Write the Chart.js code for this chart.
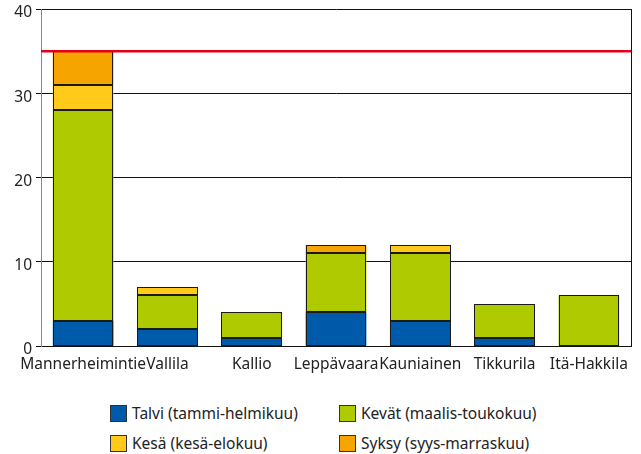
<!DOCTYPE html>
<html>
<head>
<meta charset="utf-8">
<script src="https://cdn.jsdelivr.net/npm/chart.js@4/dist/chart.umd.min.js"></script>
<style>
  body { margin: 0; background: #fff; }
  #wrap { position: relative; width: 641px; height: 454px; }
  #chart { position: absolute; left: 0; top: 0; }
  .leg { position: absolute; font: 15.5px "Noto Sans", sans-serif; color: #222; white-space: nowrap; line-height: 18px; }
  .leg span { display: inline-block; width: 15px; height: 15px; border: 1px solid #333; vertical-align: -3px; margin-right: 5px; }
</style>
</head>
<body>
<div id="wrap">
  <canvas id="chart" width="641" height="385"></canvas>
  <div id="legend"></div>
</div>
<script>
// Sites and season counts (stacked)
const sites = ['Mannerheimintie', 'Vallila', 'Kallio', 'Leppävaara', 'Kauniainen', 'Tikkurila', 'Itä-Hakkila'];
const talvi = [3, 2, 1, 4, 3, 1, 0];
const kevat = [25, 4, 3, 7, 8, 4, 6];
const kesa = [3, 1, 0, 0, 1, 0, 0];
const syksy = [4, 0, 0, 1, 0, 0, 0];
const limitValue = 35;
const yTicks = [0, 10, 20, 30, 40];

const seriesNames = ['Talvi (tammi-helmikuu)', 'Kevät (maalis-toukokuu)', 'Kesä (kesä-elokuu)', 'Syksy (syys-marraskuu)'];
const seriesColors = ['#005aaa', '#b0ca00', '#ffca1a', '#f5a400'];
const seriesData = [talvi, kevat, kesa, syksy];

const font = { family: '"Noto Sans", sans-serif', size: 15.5, lineHeight: 1 };

// Crisp outlines around each bar segment, taken from the bar elements
const barOutlines = {
    id: 'barOutlines',
    afterDatasetsDraw(chart) {
        const ctx = chart.ctx;
        ctx.save();
        ctx.strokeStyle = '#1a1a1a';
        ctx.lineWidth = 1;
        chart.data.datasets.forEach((ds, i) => {
            chart.getDatasetMeta(i).data.forEach((el, j) => {
                if (!ds.data[j]) return;
                const p = el.getProps(['x', 'y', 'base', 'width'], true);
                const l = Math.round(p.x - p.width / 2) + 0.5;
                const r = Math.round(p.x + p.width / 2) - 0.5;
                const t = Math.round(p.y) + 0.5;
                const b = Math.round(p.base) - 0.5;
                ctx.strokeRect(l, t, r - l, b - t);
            });
        });
        ctx.restore();
    }
};

// Red limit line + right border of the plot
const limitLine = {
    id: 'limitLine',
    afterDatasetsDraw(chart) {
        const { ctx, chartArea, scales } = chart;
        const y = scales.y.getPixelForValue(limitValue);
        ctx.save();
        ctx.strokeStyle = '#111';
        ctx.lineWidth = 1;
        ctx.beginPath();
        ctx.moveTo(chartArea.right + 0.5, chartArea.top);
        ctx.lineTo(chartArea.right + 0.5, chartArea.bottom);
        ctx.stroke();
        ctx.strokeStyle = '#e3001b';
        ctx.lineWidth = 2.5;
        ctx.beginPath();
        ctx.moveTo(chartArea.left, y);
        ctx.lineTo(chartArea.right, y);
        ctx.stroke();
        ctx.restore();
    }
};

new Chart(document.getElementById('chart'), {
    type: 'bar',
    data: {
        labels: sites,
        datasets: seriesData.map((d, i) => ({
            label: seriesNames[i],
            data: d,
            backgroundColor: seriesColors[i],
            borderWidth: 0,
            categoryPercentage: 1,
            barPercentage: 0.72
        }))
    },
    options: {
        responsive: false,
        animation: false,
        layout: { padding: { top: 9, right: 10, left: 0, bottom: 0 } },
        plugins: { legend: { display: false }, tooltip: { enabled: false } },
        scales: {
            x: {
                stacked: true,
                grid: { display: false, drawTicks: false },
                border: { color: '#111', width: 1 },
                ticks: { color: '#222', font: font, autoSkip: false, maxRotation: 0, minRotation: 0, padding: 11 },
                afterFit(scale) { scale.height = 39; }
            },
            y: {
                stacked: true,
                min: 0,
                max: 40,
                afterBuildTicks(scale) { scale.ticks = yTicks.map(v => ({ value: v })); },
                grid: { color: '#111', lineWidth: 1, tickLength: 5 },
                border: { color: '#888', width: 1 },
                ticks: { color: '#222', font: font, padding: 4, labelOffset: 4 },
                afterFit(scale) { scale.width = 41; scale.paddingTop = 0; scale.paddingBottom = 0; }
            }
        }
    },
    plugins: [barOutlines, limitLine]
});

// Two-column legend under the chart
const legendPos = [[110, 404], [339, 404], [110, 434], [339, 434]];
document.getElementById('legend').innerHTML = seriesNames.map((n, i) =>
    `<div class="leg" style="left:${legendPos[i][0]}px;top:${legendPos[i][1]}px"><span style="background:${seriesColors[i]}"></span>${n}</div>`
).join('');
</script>
</body>
</html>
